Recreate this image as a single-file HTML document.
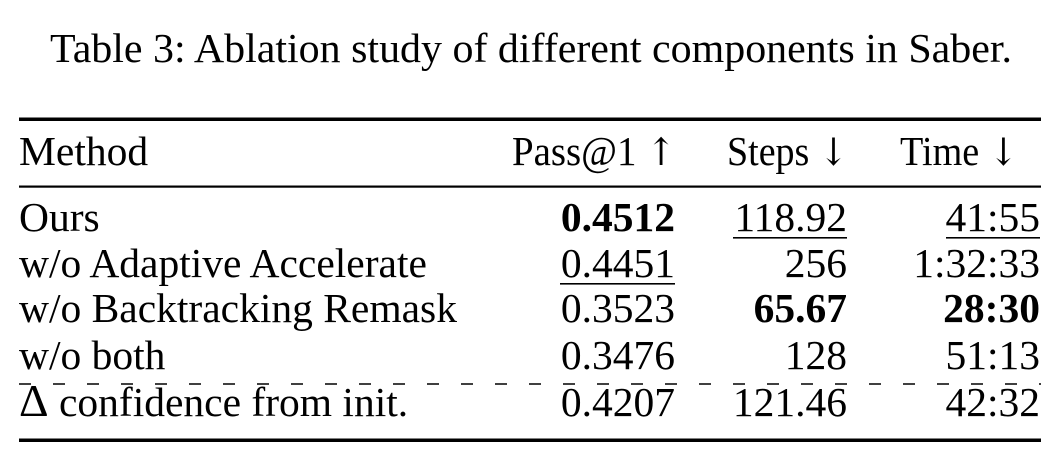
<!DOCTYPE html>
<html><head><meta charset="utf-8"><style>
html,body{margin:0;padding:0;background:#fff;width:1064px;height:464px;overflow:hidden}
svg{display:block}
text{font-family:"Liberation Serif",serif;font-size:41.5px;fill:#000}
.b{font-weight:bold}
.a{font-family:"DejaVu Serif",serif;font-size:38px}
</style></head><body>
<svg width="1064" height="464" viewBox="0 0 1064 464">
<text x="531" y="62" text-anchor="middle" textLength="962" lengthAdjust="spacingAndGlyphs">Table 3: Ablation study of different components in Saber.</text>
<rect x="19" y="117.5" width="1022" height="3.5" fill="#000"/>
<rect x="19" y="185.5" width="1022" height="2.2" fill="#000"/>
<rect x="19" y="438.5" width="1022" height="3.5" fill="#000"/>
<line x1="19" y1="384" x2="1041" y2="384" stroke="#000" stroke-width="1.6" stroke-dasharray="12 22"/>
<text x="19" y="165">Method</text>
<text x="512" y="165" textLength="164" lengthAdjust="spacingAndGlyphs">Pass@1 <tspan class="a">↑</tspan></text>
<text x="727" y="165" textLength="121" lengthAdjust="spacingAndGlyphs">Steps <tspan class="a">↓</tspan></text>
<text x="900" y="165" textLength="118" lengthAdjust="spacingAndGlyphs">Time <tspan class="a">↓</tspan></text>

<text x="19" y="231">Ours</text>
<text x="675" y="231" text-anchor="end" class="b">0.4512</text>
<text x="847" y="231" text-anchor="end">118.92</text>
<text x="1040" y="231" text-anchor="end">41:55</text>
<rect x="733" y="237" width="114" height="1.6" fill="#000"/>
<rect x="946" y="237" width="94" height="1.6" fill="#000"/>

<text x="19" y="277">w/o Adaptive Accelerate</text>
<text x="675" y="277" text-anchor="end">0.4451</text>
<text x="847" y="277" text-anchor="end">256</text>
<text x="1040" y="277" text-anchor="end">1:32:33</text>
<rect x="560" y="283" width="115" height="1.6" fill="#000"/>

<text x="19" y="322">w/o Backtracking Remask</text>
<text x="675" y="322" text-anchor="end">0.3523</text>
<text x="847" y="322" text-anchor="end" class="b">65.67</text>
<text x="1040" y="322" text-anchor="end" class="b">28:30</text>

<text x="19" y="369">w/o both</text>
<text x="675" y="369" text-anchor="end">0.3476</text>
<text x="847" y="369" text-anchor="end">128</text>
<text x="1040" y="369" text-anchor="end">51:13</text>

<text x="19" y="416"><tspan font-size="46">Δ</tspan> confidence from init.</text>
<text x="675" y="416" text-anchor="end">0.4207</text>
<text x="847" y="416" text-anchor="end">121.46</text>
<text x="1040" y="416" text-anchor="end">42:32</text>
</svg>
</body></html>
